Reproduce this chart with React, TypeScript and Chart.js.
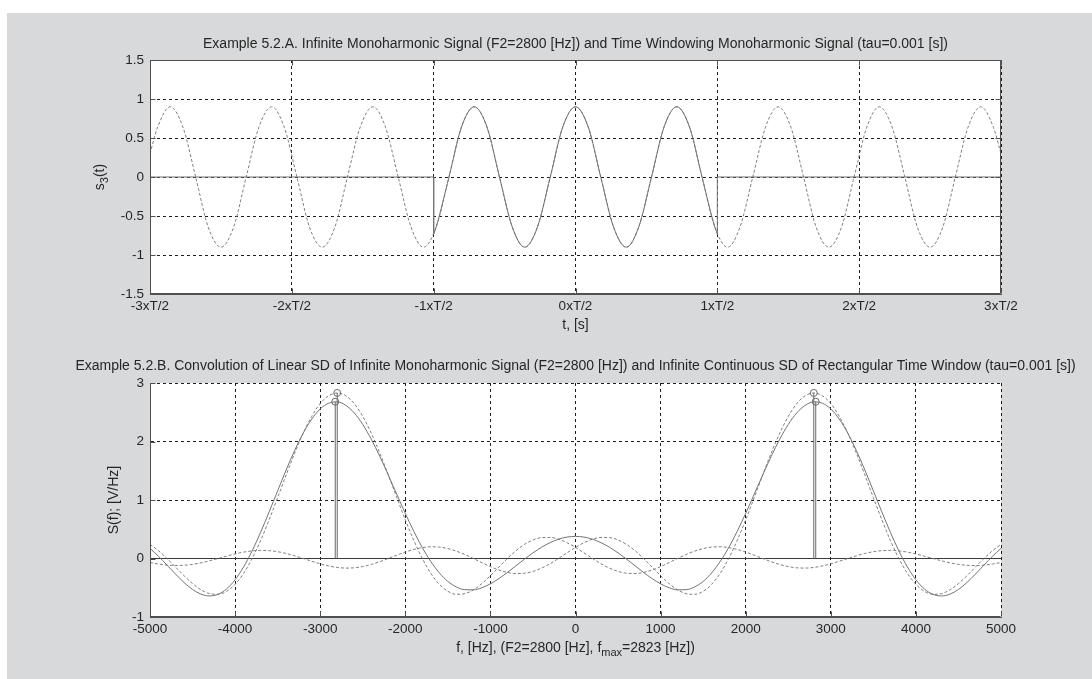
import React, { useEffect, useRef } from "react";
import { Chart, registerables } from "chart.js";

Chart.register(...registerables);

const FONT = "'Liberation Sans', Arial, Helvetica, sans-serif";
const TEXT_COLOR = "#262626";
const GRID_COLOR = "#1e1e1e";
const FRAME_COLOR = "#505050";
const CURVE_COLOR = "#747474";
const DASH_COLOR = "#808080";

// ---------- Top chart (time domain) ----------
const topTitle =
  "Example 5.2.A. Infinite Monoharmonic Signal (F2=2800 [Hz]) and Time Windowing Monoharmonic Signal (tau=0.001 [s])";
const topTickTimesSec = [-1.5e-3, -1e-3, -5e-4, 0, 5e-4, 1e-3, 1.5e-3];
const topTickLabels = ["-3xT/2", "-2xT/2", "-1xT/2", "0xT/2", "1xT/2", "2xT/2", "3xT/2"];

// infinite monoharmonic signal, sample times in microseconds
const infTimeUs = [
  -1500, -1473, -1429, -1384, -1339, -1295, -1250, -1205, -1161, -1116, -1071, -1027, -982, -938,
  -893, -848, -804, -759, -714, -670, -625, -580, -536, -491, -446, -402, -357, -312, -268, -223,
  -179, -134, -89, -45, 0, 45, 89, 134, 179, 223, 268, 312, 357, 402, 446, 491, 536, 580, 625, 670,
  714, 759, 804, 848, 893, 938, 982, 1027, 1071, 1116, 1161, 1205, 1250, 1295, 1339, 1384, 1429,
  1473, 1500,
];
const infSignal = [
  0.3, 0.64, 0.9, 0.64, 0, -0.64, -0.9, -0.64, 0, 0.64, 0.9, 0.64, 0, -0.64, -0.9, -0.64, 0, 0.64,
  0.9, 0.64, 0, -0.64, -0.9, -0.64, 0, 0.64, 0.9, 0.64, 0, -0.64, -0.9, -0.64, 0, 0.64, 0.9, 0.64,
  0, -0.64, -0.9, -0.64, 0, 0.64, 0.9, 0.64, 0, -0.64, -0.9, -0.64, 0, 0.64, 0.9, 0.64, 0, -0.64,
  -0.9, -0.64, 0, 0.64, 0.9, 0.64, 0, -0.64, -0.9, -0.64, 0, 0.64, 0.9, 0.64, 0.3,
];

// windowed signal inside the window
const winTimeUs = [
  -500, -491, -446, -402, -357, -312, -268, -223, -179, -134, -89, -45, 0, 45, 89, 134, 179, 223,
  268, 312, 357, 402, 446, 491, 500,
];
const winSignal = [
  -0.73, -0.64, 0, 0.64, 0.9, 0.64, 0, -0.64, -0.9, -0.64, 0, 0.64, 0.9, 0.64, 0, -0.64, -0.9,
  -0.64, 0, 0.64, 0.9, 0.64, 0, -0.64, -0.73,
];
// windowed signal outside the window (zero) with the jumps at the edges
const leftZeroTimeUs = [-1500, -500, -500];
const leftZeroValue = [0, 0, -0.73];
const rightZeroTimeUs = [500, 500, 1500];
const rightZeroValue = [-0.73, 0, 0];

// ---------- Bottom chart (spectrum) ----------
const bottomTitle =
  "Example 5.2.B. Convolution of Linear SD of Infinite Monoharmonic Signal (F2=2800 [Hz]) and Infinite Continuous SD of Rectangular Time Window (tau=0.001 [s])";

const freqHz = [
  -5000, -4900, -4800, -4700, -4600, -4500, -4400, -4300, -4200, -4100, -4000, -3900, -3800, -3700,
  -3600, -3500, -3400, -3300, -3200, -3100, -3000, -2900, -2800, -2700, -2600, -2500, -2400, -2300,
  -2200, -2100, -2000, -1900, -1800, -1700, -1600, -1500, -1400, -1300, -1200, -1100, -1000, -900,
  -800, -700, -600, -500, -400, -300, -200, -100, 0, 100, 200, 300, 400, 500, 600, 700, 800, 900,
  1000, 1100, 1200, 1300, 1400, 1500, 1600, 1700, 1800, 1900, 2000, 2100, 2200, 2300, 2400, 2500,
  2600, 2700, 2800, 2900, 3000, 3100, 3200, 3300, 3400, 3500, 3600, 3700, 3800, 3900, 4000, 4100,
  4200, 4300, 4400, 4500, 4600, 4700, 4800, 4900, 5000,
];
// SD of window shifted to -F2
const sdAtMinusF2 = [
  0.241, 0.133, 0, -0.146, -0.294, -0.429, -0.536, -0.601, -0.612, -0.561, -0.441, -0.253, 0,
  0.309, 0.662, 1.041, 1.428, 1.802, 2.142, 2.429, 2.648, 2.783, 2.83, 2.783, 2.648, 2.429, 2.142,
  1.802, 1.428, 1.041, 0.662, 0.309, 0, -0.253, -0.441, -0.561, -0.612, -0.601, -0.536, -0.429,
  -0.294, -0.146, 0, 0.133, 0.241, 0.317, 0.357, 0.36, 0.33, 0.27, 0.189, 0.096, 0, -0.09, -0.165,
  -0.221, -0.252, -0.257, -0.238, -0.197, -0.139, -0.071, 0, 0.068, 0.126, 0.169, 0.195, 0.2,
  0.186, 0.155, 0.11, 0.057, 0, -0.055, -0.102, -0.138, -0.159, -0.164, -0.153, -0.128, -0.091,
  -0.047, 0, 0.046, 0.085, 0.116, 0.134, 0.139, 0.13, 0.109, 0.078, 0.04, 0, -0.039, -0.074, -0.1,
  -0.116, -0.12, -0.113, -0.095, -0.068,
];
// SD of window shifted to +F2
const sdAtPlusF2 = [
  -0.068, -0.095, -0.113, -0.12, -0.116, -0.1, -0.074, -0.039, 0, 0.04, 0.078, 0.109, 0.13, 0.139,
  0.134, 0.116, 0.085, 0.046, 0, -0.047, -0.091, -0.128, -0.153, -0.164, -0.159, -0.138, -0.102,
  -0.055, 0, 0.057, 0.11, 0.155, 0.186, 0.2, 0.195, 0.169, 0.126, 0.068, 0, -0.071, -0.139, -0.197,
  -0.238, -0.257, -0.252, -0.221, -0.165, -0.09, 0, 0.096, 0.189, 0.27, 0.33, 0.36, 0.357, 0.317,
  0.241, 0.133, 0, -0.146, -0.294, -0.429, -0.536, -0.601, -0.612, -0.561, -0.441, -0.253, 0,
  0.309, 0.662, 1.041, 1.428, 1.802, 2.142, 2.429, 2.648, 2.783, 2.83, 2.783, 2.648, 2.429, 2.142,
  1.802, 1.428, 1.041, 0.662, 0.309, 0, -0.253, -0.441, -0.561, -0.612, -0.601, -0.536, -0.429,
  -0.294, -0.146, 0, 0.133, 0.241,
];
// convolution result
const sdConvolution = [
  0.173, 0.038, -0.113, -0.266, -0.41, -0.529, -0.61, -0.64, -0.612, -0.521, -0.363, -0.144, 0.13,
  0.448, 0.796, 1.157, 1.513, 1.848, 2.142, 2.382, 2.557, 2.655, 2.677, 2.619, 2.489, 2.291, 2.04,
  1.747, 1.428, 1.098, 0.772, 0.464, 0.186, -0.053, -0.246, -0.392, -0.486, -0.533, -0.536, -0.5,
  -0.433, -0.343, -0.238, -0.124, -0.011, 0.096, 0.192, 0.27, 0.33, 0.366, 0.378, 0.366, 0.33, 0.27,
  0.192, 0.096, -0.011, -0.124, -0.238, -0.343, -0.433, -0.5, -0.536, -0.533, -0.486, -0.392,
  -0.246, -0.053, 0.186, 0.464, 0.772, 1.098, 1.428, 1.747, 2.04, 2.291, 2.489, 2.619, 2.677,
  2.655, 2.557, 2.382, 2.142, 1.848, 1.513, 1.157, 0.796, 0.448, 0.13, -0.144, -0.363, -0.521,
  -0.612, -0.64, -0.61, -0.529, -0.41, -0.266, -0.113, 0.038, 0.173,
];
const stemFreqHz = [-2823, -2800, 2800, 2823];
const stemValue = [2.68, 2.83, 2.83, 2.68];

// ---------- helpers ----------
type Part = { t: string; sub?: boolean };

function drawRich(
  ctx: CanvasRenderingContext2D,
  parts: Part[],
  cx: number,
  cy: number,
  size: number,
  rotate = false
) {
  ctx.save();
  ctx.translate(cx, cy);
  if (rotate) ctx.rotate(-Math.PI / 2);
  ctx.fillStyle = TEXT_COLOR;
  ctx.textBaseline = "middle";
  ctx.textAlign = "left";
  const fMain = `${size}px ${FONT}`;
  const fSub = `${Math.round(size * 0.78)}px ${FONT}`;
  let total = 0;
  const widths = parts.map((p) => {
    ctx.font = p.sub ? fSub : fMain;
    const w = ctx.measureText(p.t).width;
    total += w;
    return w;
  });
  let x = -total / 2;
  parts.forEach((p, i) => {
    ctx.font = p.sub ? fSub : fMain;
    ctx.fillText(p.t, x, p.sub ? size * 0.38 : 0);
    x += widths[i];
  });
  ctx.restore();
}

const whiteAreaPlugin = {
  id: "whiteArea",
  beforeDraw(chart: any) {
    const { ctx, chartArea: a } = chart;
    ctx.save();
    ctx.fillStyle = "#ffffff";
    ctx.fillRect(a.left, a.top, a.right - a.left, a.bottom - a.top);
    ctx.restore();
  },
};

function makeFramePlugin(box: boolean) {
  return {
    id: "frame" + (box ? "Box" : "Open"),
    afterDatasetsDraw(chart: any) {
      const { ctx, chartArea: a, scales } = chart;
      ctx.save();
      ctx.strokeStyle = FRAME_COLOR;
      ctx.lineWidth = 1;
      const L = Math.round(a.left) + 0.5;
      const R = Math.round(a.right) - 0.5;
      const T = Math.round(a.top) + 0.5;
      const B = Math.round(a.bottom) - 0.5;
      ctx.beginPath();
      ctx.moveTo(L, T);
      ctx.lineTo(L, B);
      ctx.lineTo(R, B);
      if (box) {
        ctx.lineTo(R, T);
        ctx.closePath();
      }
      ctx.stroke();
      const tl = 5;
      ctx.beginPath();
      scales.x.ticks.forEach((t: any) => {
        const px = Math.round(scales.x.getPixelForValue(t.value)) + 0.5;
        ctx.moveTo(px, B);
        ctx.lineTo(px, B - tl);
        if (box) {
          ctx.moveTo(px, T);
          ctx.lineTo(px, T + tl);
        }
      });
      scales.y.ticks.forEach((t: any) => {
        const py = Math.round(scales.y.getPixelForValue(t.value)) + 0.5;
        ctx.moveTo(L, py);
        ctx.lineTo(L + tl, py);
        if (box) {
          ctx.moveTo(R, py);
          ctx.lineTo(R - tl, py);
        }
      });
      ctx.stroke();
      ctx.restore();
    },
  };
}

const tickFont = { family: FONT, size: 13.5 };
const LABEL_SIZE = 14;

function baseScales(
  xMin: number,
  xMax: number,
  yMin: number,
  yMax: number,
  yStep: number,
  xAxisHeight: number
) {
  return {
    x: {
      type: "linear",
      min: xMin,
      max: xMax,
      ticks: {
        autoSkip: false,
        maxRotation: 0,
        padding: 4,
        color: TEXT_COLOR,
        font: tickFont,
      },
      grid: { color: GRID_COLOR, lineWidth: 1, drawTicks: false },
      border: { display: true, color: FRAME_COLOR, dash: [3, 3] },
      afterFit: (s: any) => {
        s.height = xAxisHeight;
      },
    },
    y: {
      type: "linear",
      min: yMin,
      max: yMax,
      ticks: {
        stepSize: yStep,
        padding: 6,
        color: TEXT_COLOR,
        font: tickFont,
        callback: (v: any) => String(v),
      },
      grid: { color: GRID_COLOR, lineWidth: 1, drawTicks: false },
      border: { display: true, color: FRAME_COLOR, dash: [3, 3] },
      afterFit: (s: any) => {
        s.width = 150;
      },
    },
  } as any;
}

const toPts = (xs: number[], ys: number[], scale = 1) =>
  xs.map((x, i) => ({ x: x * scale, y: ys[i] }));

export default function App() {
  const topRef = useRef<HTMLCanvasElement>(null);
  const botRef = useRef<HTMLCanvasElement>(null);

  useEffect(() => {
    const topScales = baseScales(-1.5e-3, 1.5e-3, -1.5, 1.5, 0.5, 46);
    topScales.x.afterBuildTicks = (s: any) => {
      s.ticks = topTickTimesSec.map((v) => ({ value: v }));
    };
    topScales.x.ticks.callback = (_v: any, i: number) => topTickLabels[i];

    const topText = {
      id: "topText",
      afterDraw(chart: any) {
        const { ctx, chartArea: a } = chart;
        const cx = (a.left + a.right) / 2;
        drawRich(ctx, [{ t: topTitle }], cx, a.top - 16, LABEL_SIZE);
        drawRich(ctx, [{ t: "t, [s]" }], cx, a.bottom + 31, LABEL_SIZE);
        drawRich(
          ctx,
          [{ t: "s" }, { t: "3", sub: true }, { t: "(t)" }],
          a.left - 50,
          (a.top + a.bottom) / 2,
          LABEL_SIZE,
          true
        );
      },
    };

    const c1 = new Chart(topRef.current as HTMLCanvasElement, {
      type: "line",
      data: {
        datasets: [
          {
            data: toPts(winTimeUs, winSignal, 1e-6),
            borderColor: CURVE_COLOR,
            borderWidth: 1,
            cubicInterpolationMode: "monotone",
            pointRadius: 0,
          },
          {
            data: toPts(leftZeroTimeUs, leftZeroValue, 1e-6),
            borderColor: CURVE_COLOR,
            borderWidth: 1,
            tension: 0,
            pointRadius: 0,
          },
          {
            data: toPts(rightZeroTimeUs, rightZeroValue, 1e-6),
            borderColor: CURVE_COLOR,
            borderWidth: 1,
            tension: 0,
            pointRadius: 0,
          },
          {
            data: toPts(infTimeUs, infSignal, 1e-6),
            borderColor: DASH_COLOR,
            borderWidth: 1,
            borderDash: [3, 2],
            cubicInterpolationMode: "monotone",
            pointRadius: 0,
          },
        ],
      } as any,
      options: {
        responsive: false,
        animation: false,
        devicePixelRatio: 1,
        layout: { padding: { left: 0, right: 91, top: 60, bottom: 0 } },
        plugins: {
          legend: { display: false },
          tooltip: { enabled: false },
          title: { display: false },
        },
        scales: topScales,
      } as any,
      plugins: [whiteAreaPlugin, makeFramePlugin(true), topText],
    });

    const botScales = baseScales(-5000, 5000, -1, 3, 1, 62);
    botScales.x.ticks.stepSize = 1000;
    botScales.x.ticks.callback = (v: any) => String(v);

    const botText = {
      id: "botText",
      afterDraw(chart: any) {
        const { ctx, chartArea: a } = chart;
        const cx = (a.left + a.right) / 2;
        drawRich(ctx, [{ t: bottomTitle }], cx, a.top - 17, LABEL_SIZE);
        drawRich(
          ctx,
          [
            { t: "f, [Hz], (F2=2800 [Hz], f" },
            { t: "max", sub: true },
            { t: "=2823 [Hz])" },
          ],
          cx,
          a.bottom + 31,
          LABEL_SIZE
        );
        drawRich(
          ctx,
          [{ t: "S(f); [V/Hz]" }],
          a.left - 36,
          (a.top + a.bottom) / 2,
          LABEL_SIZE,
          true
        );
      },
    };

    const stemSets = stemFreqHz.map((f, i) => ({
      data: [
        { x: f, y: 0 },
        { x: f, y: stemValue[i] },
      ],
      borderColor: "#6a6a6a",
      borderWidth: 1,
      tension: 0,
      pointRadius: [0, 3.5],
      pointBorderColor: "#6a6a6a",
      pointBackgroundColor: "rgba(0,0,0,0)",
      pointBorderWidth: 1,
      order: 0,
    }));

    const c2 = new Chart(botRef.current as HTMLCanvasElement, {
      type: "line",
      data: {
        datasets: [
          ...stemSets,
          {
            data: toPts(freqHz, sdConvolution),
            borderColor: CURVE_COLOR,
            borderWidth: 1,
            cubicInterpolationMode: "monotone",
            pointRadius: 0,
            order: 1,
          },
          {
            data: toPts(freqHz, sdAtMinusF2),
            borderColor: DASH_COLOR,
            borderWidth: 1,
            borderDash: [3, 2],
            cubicInterpolationMode: "monotone",
            pointRadius: 0,
            order: 2,
          },
          {
            data: toPts(freqHz, sdAtPlusF2),
            borderColor: DASH_COLOR,
            borderWidth: 1,
            borderDash: [3, 2],
            cubicInterpolationMode: "monotone",
            pointRadius: 0,
            order: 2,
          },
          {
            data: [
              { x: -5000, y: 0 },
              { x: 5000, y: 0 },
            ],
            borderColor: "#3a3a3a",
            borderWidth: 1,
            tension: 0,
            pointRadius: 0,
            order: 3,
          },
        ],
      } as any,
      options: {
        responsive: false,
        animation: false,
        devicePixelRatio: 1,
        layout: { padding: { left: 0, right: 91, top: 43, bottom: 0 } },
        plugins: {
          legend: { display: false },
          tooltip: { enabled: false },
          title: { display: false },
        },
        scales: botScales,
      } as any,
      plugins: [whiteAreaPlugin, makeFramePlugin(false), botText],
    });

    return () => {
      c1.destroy();
      c2.destroy();
    };
  }, []);

  return (
    <div
      style={{
        position: "absolute",
        left: 0,
        top: 0,
        width: 1092,
        height: 679,
        background: "#ffffff",
        overflow: "hidden",
      }}
    >
      <div
        style={{
          position: "absolute",
          left: 7,
          top: 13,
          right: 0,
          bottom: 0,
          background: "#d8d9db",
        }}
      />
      <canvas
        ref={topRef}
        width={1092}
        height={340}
        style={{ position: "absolute", left: 0, top: 0 }}
      />
      <canvas
        ref={botRef}
        width={1092}
        height={339}
        style={{ position: "absolute", left: 0, top: 340 }}
      />
    </div>
  );
}
